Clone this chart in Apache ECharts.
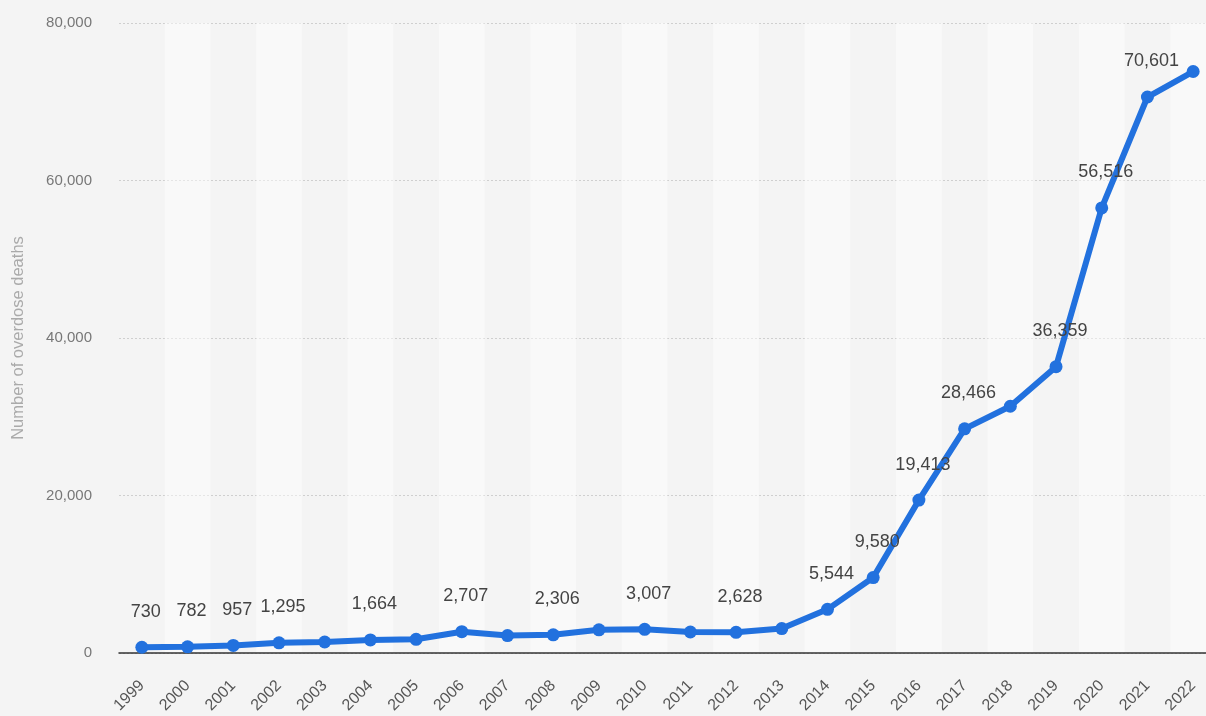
<!DOCTYPE html>
<html>
<head>
<meta charset="utf-8">
<script src="https://cdn.jsdelivr.net/npm/echarts@6/dist/echarts.min.js"></script>
<style>
html,body{margin:0;padding:0;background:#f4f4f4;overflow:hidden;width:1206px;height:716px;}
#chart{width:1216px;height:716px;}
</style>
</head>
<body>
<div id="chart"></div>
<script>
const years = ['1999','2000','2001','2002','2003','2004','2005','2006','2007','2008','2009','2010','2011','2012','2013','2014','2015','2016','2017','2018','2019','2020','2021','2022'];
const deaths = [730,782,957,1295,1400,1664,1742,2707,2213,2306,2946,3007,2666,2628,3105,5544,9580,19413,28466,31335,36359,56516,70601,73838];
const showLabel = [true,true,true,true,false,true,false,true,false,true,false,true,false,true,false,true,true,true,true,false,true,true,true,false];
const yTicks = [0,20000,40000,60000,80000];

const chart = echarts.init(document.getElementById('chart'));
const fmt = v => v.toLocaleString('en-US');
const FF = '"Liberation Sans", Arial, sans-serif';
chart.setOption({
  backgroundColor:'#f4f4f4',
  animation:false,
  grid:{left:119, right:0, top:23, bottom:63},
  xAxis:{
    type:'category',
    data:years,
    boundaryGap:true,
    axisLine:{lineStyle:{color:'#333', width:1.5}},
    axisTick:{show:false},
    splitArea:{show:true, areaStyle:{color:['rgba(0,0,0,0)','rgba(255,255,255,0.45)']}},
    axisLabel:{rotate:45, color:'#555', fontSize:16, fontFamily:FF, margin:30, interval:0}
  },
  yAxis:{
    type:'value',
    min:yTicks[0], max:yTicks[yTicks.length-1], interval:20000,
    name:'Number of overdose deaths',
    nameLocation:'middle', nameGap:92,
    nameTextStyle:{color:'#aaa', fontSize:16.5, fontFamily:FF},
    axisLine:{show:false}, axisTick:{show:false},
    axisLabel:{color:'#777', fontSize:15, fontFamily:FF, margin:27, formatter:v=>fmt(v)},
    splitLine:{lineStyle:{color:'#cfcfcf', type:[2,2], width:1}}
  },
  series:[{
    type:'line',
    data:deaths.map((v,i)=>({value:v, label:{show:showLabel[i]}})),
    lineStyle:{color:'#2271de', width:6},
    itemStyle:{color:'#2271de'},
    symbol:'circle', symbolSize:13,
    label:{position:'top', distance:20, offset:[4,0], color:'#444', fontSize:18, fontFamily:FF, formatter:p=>fmt(p.value)}
  }]
});
</script>
</body>
</html>
